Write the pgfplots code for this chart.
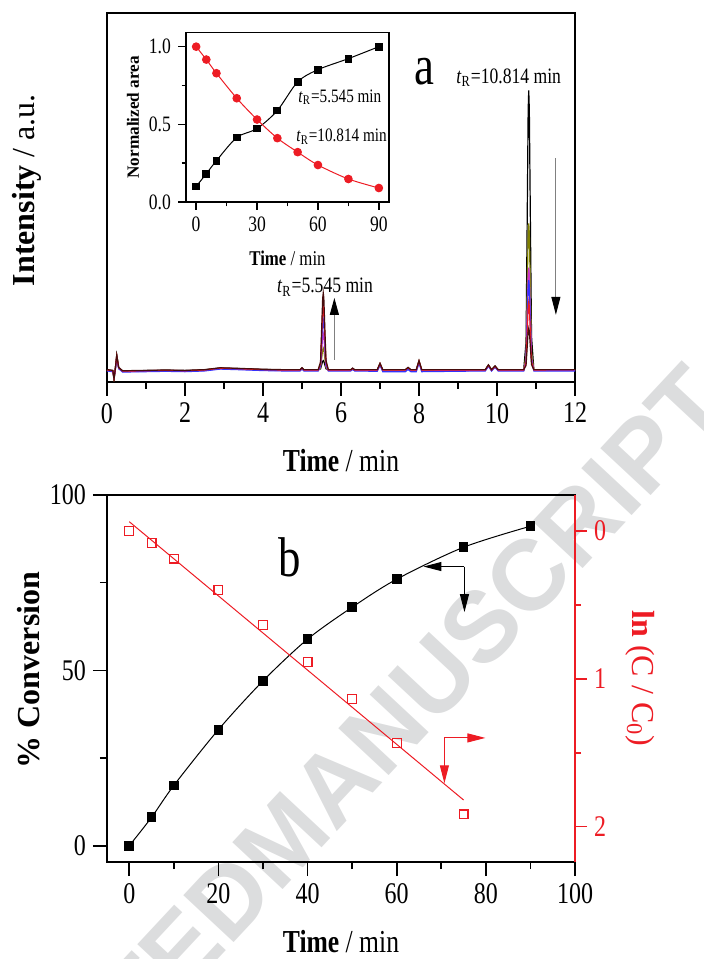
\documentclass[border=0pt]{standalone}
\usepackage{fontspec}
\setmainfont{Liberation Serif}[FakeStretch=0.8]
\newfontfamily\rotfont{Liberation Serif}
\newfontfamily\wmfont{Liberation Sans}
\usepackage{pgfplots}
\pgfplotsset{compat=1.18}
\usepackage{pgfplotstable}
\usetikzlibrary{arrows.meta}
\definecolor{cred}{RGB}{237,28,36}
\definecolor{colive}{RGB}{128,128,0}
\definecolor{cmag}{RGB}{204,51,204}
\definecolor{cblue}{RGB}{51,51,255}
\definecolor{cdark}{RGB}{70,12,12}
\definecolor{wmgray}{RGB}{220,221,222}
\pgfplotsset{/pgf/number format/assume math mode=true}

\pgfplotstableread{
x      t1    t2    t3    t4    t5    t6
0.00   3.3   3.2   3.1   3.0   3.25  3.35
0.15   3.1   3.0   2.9   2.8   3.05  3.15
0.18   0.6   1.0   1.2   1.5   1.0   0.8
0.21   3.3   3.2   3.1   3.0   3.25  3.35
0.25   7.3   7.0   6.8   6.5   7.0   7.3
0.30   3.9   3.8   3.7   3.6   3.85  3.95
0.40   3.0   2.9   2.8   2.7   2.95  3.05
1.00   3.1   3.0   2.9   2.8   3.05  3.15
1.50   3.2   3.1   3.0   2.9   3.15  3.25
2.00   3.1   3.0   2.9   2.8   3.05  3.15
2.50   3.3   3.2   3.1   3.0   3.25  3.35
2.90   3.8   3.7   3.6   3.5   3.75  3.85
3.50   3.6   3.5   3.4   3.3   3.55  3.65
4.00   3.4   3.3   3.2   3.1   3.35  3.45
4.50   3.3   3.2   3.1   3.0   3.25  3.35
4.95   3.3   3.2   3.1   3.0   3.25  3.35
5.00   3.8   3.7   3.6   3.5   3.75  3.85
5.05   3.3   3.2   3.1   3.0   3.25  3.35
5.415  3.3   3.2   3.1   3.0   3.25  3.35
5.475  3.55  3.8   4.1   4.4   5.0   5.43
5.505  4.68  6.5   8.6   10.7  12.88 14.79
5.530  5.63  8.78  12.4  16.0  19.55 22.7
5.545  5.8   9.2   13.1  17.0  20.75 24.15
5.560  5.63  8.78  12.4  16.0  19.55 22.7
5.585  4.68  6.5   8.6   10.7  12.88 14.79
5.615  3.6   3.92  4.3   4.68  5.35  5.85
5.675  3.3   3.2   3.1   3.0   3.25  3.35
6.25   3.3   3.2   3.1   3.0   3.25  3.35
6.30   3.7   3.6   3.5   3.4   3.65  3.75
6.35   3.3   3.2   3.1   3.0   3.25  3.35
6.93   3.3   3.2   3.1   2.9   3.25  3.35
7.00   5.0   4.9   4.8   4.6   4.95  5.05
7.07   3.3   3.2   3.0   2.8   3.25  3.35
7.65   3.3   3.2   3.0   2.8   3.25  3.35
7.72   3.9   3.8   3.6   3.4   3.85  3.95
7.79   3.3   3.2   3.0   2.8   3.25  3.35
7.93   3.3   3.2   3.0   2.8   3.25  3.35
8.00   5.7   5.6   5.4   5.2   5.65  5.75
8.07   3.3   3.2   3.0   2.8   3.25  3.35
9.70   3.3   3.2   3.1   3.0   3.25  3.35
9.78   4.6   4.5   4.4   4.3   4.55  4.65
9.86   3.3   3.2   3.1   3.0   3.25  3.35
9.95   4.3   4.2   4.1   4.0   4.25  4.35
10.03  3.3   3.2   3.1   3.0   3.25  3.35
10.685 3.3   3.2   3.1   3.0   3.25  3.35
10.745 10.87 7.18  5.89  5.46  5.1   4.48
10.775 44.9  25.09 18.45 16.53 13.4  9.54
10.799 73.7  40.2  29.0  25.9  20.4  13.8
10.814 79.0  43.0  31.0  27.6  21.7  14.6
10.829 73.7  40.2  29.0  25.9  20.4  13.8
10.855 44.9  25.09 18.45 16.53 13.4  9.54
10.885 12.38 7.98  6.45  5.95  5.46  4.7
10.945 3.3   3.2   3.1   3.0   3.25  3.35
11.50  3.3   3.2   3.1   3.0   3.3   3.35
12.00  3.3   3.2   3.1   3.0   3.35  3.35
}\chrom

\pgfplotstableread{
t    a5     a10
0    0.100  1.000
5    0.182  0.917
10   0.266  0.829
20   0.415  0.668
30   0.473  0.531
40   0.589  0.411
50   0.773  0.321
60   0.852  0.238
75   0.923  0.148
90   1.000  0.090
}\inset

\pgfplotstableread{
t    conv
0    0.0
5    8.1
10   17.2
20   33.1
30   47.0
40   58.9
50   68.0
60   76.0
75   85.1
90   91.1
}\conv

\pgfplotstableread{
t    lnc
0    0.000
5    0.081
10   0.187
20   0.399
30   0.634
40   0.886
50   1.137
60   1.434
75   1.917
}\lnc

\pgfplotsset{
  common/.style={
    scale only axis,
    tick align=outside,
    major tick length=7pt,
    minor tick length=3.5pt,
    axis line style={line width=0.8pt},
    every tick/.style={line width=0.8pt, black},
    tick label style={font=\fontsize{15}{15}\selectfont},
    label style={font=\fontsize{16}{16}\selectfont},
  }
}

\begin{document}
\begin{tikzpicture}
\useasboundingbox (0,0) rectangle (352pt,479.5pt);

% watermark
\node[rotate=47, text=wmgray, font=\wmfont\bfseries\fontsize{50}{50}\selectfont, inner sep=0pt] (ms) at (240.5pt,166pt) {MANUSCRIPT};
\node[rotate=47, text=wmgray, font=\wmfont\bfseries\fontsize{50}{50}\selectfont, inner sep=0pt, anchor=base east] at (ms.base west) {ACCEPTED\ };

% ---------- panel a ----------
\begin{axis}[common,
  at={(53.5pt,288.5pt)}, anchor=south west,
  width=234pt, height=184.5pt,
  xmin=0, xmax=12, ymin=0, ymax=100,
  xtick={0,2,...,12}, minor xtick={1,3,...,11},
  ytick=\empty, xtick pos=bottom,
  xlabel={\textbf{Time} / min},
  xlabel style={at={(axis description cs:0.5,-0.214)}, anchor=center},
  ylabel={\rotfont\textbf{Intensity} / a.u.},
  ylabel style={at={(axis description cs:-0.171,0.52)}, anchor=center},
]
\addplot[black, line width=0.6pt] table[x=x,y=t1] {\chrom};
\addplot[colive, line width=0.6pt] table[x=x,y=t2] {\chrom};
\addplot[cmag, line width=0.6pt] table[x=x,y=t3] {\chrom};
\addplot[cblue, line width=0.6pt] table[x=x,y=t4] {\chrom};
\addplot[cred, line width=0.6pt] table[x=x,y=t5] {\chrom};
\addplot[cdark, line width=0.6pt] table[x=x,y=t6] {\chrom};
\node[font=\fontsize{11}{11}\selectfont] at (axis cs:10.3,82.4) {\textit{t}\textsubscript{R}=10.814 min};
\node[font=\fontsize{11}{11}\selectfont] at (axis cs:5.59,25.7) {\textit{t}\textsubscript{R}=5.545 min};
\node[font=\fontsize{28}{28}\selectfont] at (axis cs:8.15,84) {a};
\draw[gray, line width=0.5pt, -{Triangle[length=8.5pt,width=4.5pt,color=black]}] (axis cs:5.83,6.0) -- (axis cs:5.83,22.8);
\draw[gray, line width=0.5pt, -{Triangle[length=9pt,width=4.5pt,color=black]}] (axis cs:11.51,60.7) -- (axis cs:11.51,18.2);
\end{axis}

% ---------- inset ----------
\begin{axis}[common,
  at={(93pt,378.5pt)}, anchor=south west,
  width=101.5pt, height=84.65pt,
  xmin=-5, xmax=95, ymin=0, ymax=1.09,
  xtick={0,30,60,90}, minor xtick={15,45,75},
  ytick={0,0.5,1}, minor ytick={0.25,0.75},
  xtick pos=bottom, ytick pos=left,
  major tick length=4pt, minor tick length=2.2pt,
  tick label style={font=\fontsize{11}{11}\selectfont},
  yticklabel style={/pgf/number format/.cd, fixed, fixed zerofill, precision=1},
  xlabel={\textbf{Time} / min},
  xlabel style={font=\fontsize{10.5}{10.5}\selectfont, at={(axis description cs:0.5,-0.331)}, anchor=center},
  ylabel={\rotfont\textbf{Normalized area}},
  ylabel style={font=\fontsize{8.6}{8.6}\selectfont, at={(axis description cs:-0.261,0.5)}, anchor=center},
]
\addplot[black, line width=0.5pt, smooth, mark=square*, mark size=1.7pt, mark options={solid}] table[x=t,y=a5] {\inset};
\addplot[cred, line width=0.5pt, smooth, mark=*, mark size=1.9pt, mark options={solid}] table[x=t,y=a10] {\inset};
\node[font=\fontsize{9.5}{9.5}\selectfont] at (axis cs:70.8,0.676) {\textit{t}\textsubscript{R}=5.545 min};
\node[font=\fontsize{9.5}{9.5}\selectfont] at (axis cs:71.6,0.42) {\textit{t}\textsubscript{R}=10.814 min};
\end{axis}

% ---------- panel b ----------
\begin{axis}[common,
  at={(53.5pt,48.5pt)}, anchor=south west,
  width=234pt, height=183.5pt,
  xmin=-5, xmax=100, ymin=-4.64, ymax=100,
  xtick={0,20,...,100}, minor xtick={10,30,...,90},
  ytick={0,50,100}, minor ytick={25,75},
  xtick pos=bottom, ytick pos=left,
  xlabel={\textbf{Time} / min},
  xlabel style={at={(axis description cs:0.5,-0.218)}, anchor=center},
  ylabel={\rotfont\textbf{\% Conversion}},
  ylabel style={at={(axis description cs:-0.167,0.523)}, anchor=center},
]
\addplot[black, line width=0.5pt, smooth, mark=square*, mark size=2.2pt, mark options={solid}] table[x=t,y=conv] {\conv};
\node[font=\fontsize{28}{28}\selectfont] at (axis cs:36.1,82.2) {b};
\draw[black, line width=0.5pt, -{Triangle[length=9pt,width=4.5pt]}] (axis cs:75.2,79.6) -- (axis cs:66.0,79.6);
\draw[black, line width=0.5pt, -{Triangle[length=9pt,width=4.5pt]}] (axis cs:75.2,79.6) -- (axis cs:75.2,66.6);
\end{axis}

\begin{axis}[common,
  at={(53.5pt,48.5pt)}, anchor=south west,
  width=234pt, height=183.5pt,
  xmin=-5, xmax=100, ymin=-0.2436, ymax=2.2395, y dir=reverse,
  axis x line=none, axis y line*=right,
  y axis line style={cred, line width=0.8pt},
  ytick={0,1,2}, minor ytick={0.5,1.5},
  major tick length=6pt, minor tick length=3pt,
  every tick/.style={line width=0.8pt, cred},
  yticklabel style={text=cred},
  ylabel={\rotfont\textbf{ln} (C / C\textsubscript{0})},
  ylabel style={text=cred, at={(axis description cs:1.139,0.5)}, anchor=center, rotate=180},
]
\addplot[cred, line width=0.5pt] coordinates {(0,-0.063) (75,1.82)};
\addplot[cred, only marks, mark=square, mark size=2.2pt, mark options={line width=0.6pt}] table[x=t,y=lnc] {\lnc};
\draw[cred, line width=0.5pt, -{Triangle[length=9pt,width=4.5pt]}] (axis cs:70.7,1.40) -- (axis cs:79.9,1.40);
\draw[cred, line width=0.5pt, -{Triangle[length=9pt,width=4.5pt]}] (axis cs:70.7,1.40) -- (axis cs:70.7,1.707);
\end{axis}
\end{tikzpicture}
\end{document}
